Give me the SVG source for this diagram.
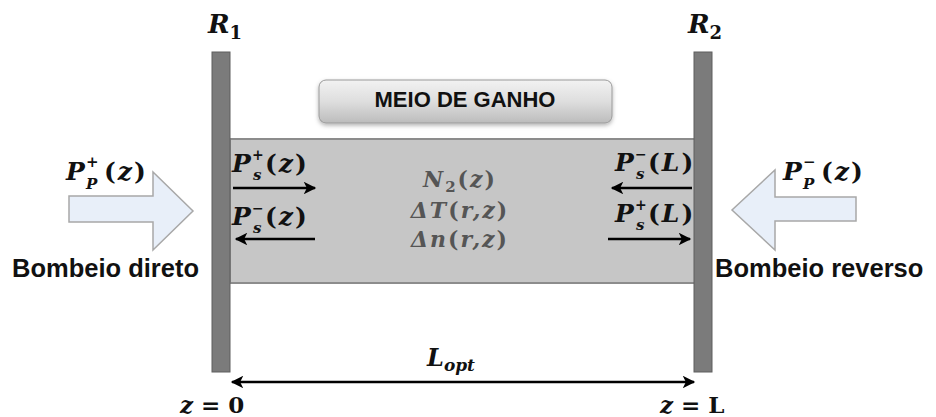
<svg xmlns="http://www.w3.org/2000/svg" width="936" height="417" viewBox="0 0 936 417">
<defs>
<linearGradient id="boxGrad" x1="0" y1="0" x2="0" y2="1">
<stop offset="0" stop-color="#f2f2f2"/>
<stop offset="0.5" stop-color="#dedede"/>
<stop offset="1" stop-color="#bcbcbc"/>
</linearGradient>
<filter id="shadow" x="-10%" y="-20%" width="120%" height="160%">
<feDropShadow dx="0" dy="2" stdDeviation="2" flood-color="#000" flood-opacity="0.3"/>
</filter>
<marker id="ah" viewBox="0 0 10 10" refX="9" refY="5" markerWidth="6" markerHeight="5" markerUnits="strokeWidth" orient="auto-start-reverse">
<path d="M0,0 L10,5 L0,10 L2.5,5 Z" fill="#000"/>
</marker>
</defs>
<style>
.m{font-family:"DejaVu Serif","Liberation Serif",serif;font-weight:bold;font-style:italic;fill:#111}
.up{font-style:normal}
.ls{letter-spacing:2px}
.g{fill:#555}
.lbl{font-family:"Liberation Sans",Arial,sans-serif;font-weight:bold;fill:#111}
.mirror{fill:#7b7b7b;stroke:#5f5f5f;stroke-width:1}
.pump{fill:#e8eff9;stroke:#a8a8a8;stroke-width:1.5}
.sig{stroke:#000;stroke-width:2.5;fill:none;marker-end:url(#ah)}
</style>
<rect width="936" height="417" fill="#fff"/>

<g id="gain-medium">
<rect x="230" y="139" width="465" height="144" fill="#c6c6c6" stroke="#8c8c8c" stroke-width="2"/>
<text class="m g ls" font-size="22" text-anchor="middle" x="460" y="187">N<tspan font-size="15" dy="5" class="up">2</tspan><tspan dy="-5" class="up">(</tspan>z<tspan class="up">)</tspan></text>
<text class="m g ls" font-size="22" text-anchor="middle" x="460" y="218">ΔT<tspan class="up">(</tspan>r,z<tspan class="up">)</tspan></text>
<text class="m g ls" font-size="22" text-anchor="middle" x="460" y="247">Δn<tspan class="up">(</tspan>r,z<tspan class="up">)</tspan></text>
</g>

<g id="gain-label">
<rect x="319" y="80" width="293" height="43" rx="7" fill="url(#boxGrad)" stroke="#9a9a9a" stroke-width="1" filter="url(#shadow)"/>
<text class="lbl" font-size="22" text-anchor="middle" x="465" y="107">MEIO DE GANHO</text>
</g>

<g id="mirror-r1">
<rect class="mirror" x="212" y="52" width="18" height="320"/>
<text class="m" font-size="26" x="208" y="33">R<tspan class="up" font-size="18" dy="6">1</tspan></text>
</g>

<g id="mirror-r2">
<rect class="mirror" x="694" y="52" width="18" height="320"/>
<text class="m" font-size="26" x="688" y="33">R<tspan class="up" font-size="18" dy="6">2</tspan></text>
</g>

<g id="pump-forward">
<polygon class="pump" points="69,196 153,196 153,172 193,211 153,250 153,222 69,222"/>
<text class="m" font-size="25"><tspan x="66" y="180">P</tspan><tspan x="86" y="167" font-size="15" class="up">+</tspan><tspan x="86" y="189" font-size="15">P</tspan><tspan x="104" y="180" class="up ls">(</tspan><tspan class="ls">z</tspan><tspan class="up">)</tspan></text>
<text class="lbl" font-size="25.5" x="12" y="277">Bombeio direto</text>
</g>

<g id="pump-reverse">
<polygon class="pump" points="856,197 775,197 775,170 732,210 775,250 775,221 856,221"/>
<text class="m" font-size="25"><tspan x="783" y="180">P</tspan><tspan x="803" y="167" font-size="15" class="up">−</tspan><tspan x="803" y="189" font-size="15">P</tspan><tspan x="821" y="180" class="up ls">(</tspan><tspan class="ls">z</tspan><tspan class="up">)</tspan></text>
<text class="lbl" font-size="25.5" x="715" y="277">Bombeio reverso</text>
</g>

<g id="signal-labels">
<text class="m" font-size="25"><tspan x="232" y="172">P</tspan><tspan x="252" y="160" font-size="14" class="up">+</tspan><tspan x="253" y="180" font-size="15">s</tspan><tspan x="265" y="172" class="up ls">(</tspan><tspan class="ls">z</tspan><tspan class="up">)</tspan></text>
<text class="m" font-size="25"><tspan x="232" y="225">P</tspan><tspan x="252" y="213" font-size="14" class="up">−</tspan><tspan x="253" y="233" font-size="15">s</tspan><tspan x="265" y="225" class="up ls">(</tspan><tspan class="ls">z</tspan><tspan class="up">)</tspan></text>
<text class="m" font-size="25"><tspan x="615" y="171">P</tspan><tspan x="635" y="159" font-size="14" class="up">−</tspan><tspan x="636" y="179" font-size="15">s</tspan><tspan x="648" y="171" class="up ls">(</tspan><tspan class="ls">L</tspan><tspan class="up">)</tspan></text>
<text class="m" font-size="25"><tspan x="615" y="222">P</tspan><tspan x="635" y="210" font-size="14" class="up">+</tspan><tspan x="636" y="230" font-size="15">s</tspan><tspan x="648" y="222" class="up ls">(</tspan><tspan class="ls">L</tspan><tspan class="up">)</tspan></text>
</g>

<g id="connectors">
<line class="sig" x1="233" y1="188" x2="315" y2="188"/>
<line class="sig" x1="315" y1="239" x2="236" y2="239"/>
<line class="sig" x1="692" y1="188" x2="612" y2="188"/>
<line class="sig" x1="608" y1="239" x2="690" y2="239"/>
<line class="sig" x1="232" y1="382" x2="694" y2="382" style="marker-start:url(#ah)"/>
</g>

<g id="axis-labels">
<text class="m" font-size="24" x="427" y="366">L<tspan font-size="17" dy="5">opt</tspan></text>
<text class="m" font-size="23" x="180" y="413">z <tspan class="up">= 0</tspan></text>
<text class="m" font-size="23" x="660" y="413">z <tspan class="up">= L</tspan></text>
</g>
</svg>
